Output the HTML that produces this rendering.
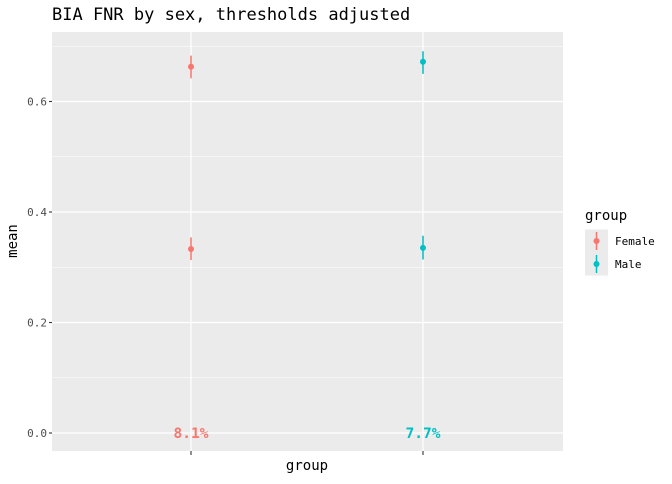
<!DOCTYPE html>
<html><head><meta charset="utf-8"><style>
body{margin:0;background:#fff;font-family:"DejaVu Sans Mono","Liberation Mono",monospace}
</style></head><body>
<svg id="c" width="672" height="480" xmlns="http://www.w3.org/2000/svg"></svg>
<script>
const categories=["Female","Male"];
const groups=["top","bottom"];
const means=[[0.663,0.333],[0.672,0.335]];
const lows=[[0.642,0.313],[0.650,0.314]];
const highs=[[0.683,0.354],[0.691,0.357]];
const labels=["8.1%","7.7%"];
const yTicks=[0,0.2,0.4,0.6];
const yTickLabels=["0.0","0.2","0.4","0.6"];
const colors=["#F8766D","#00BFC4"];
const NS="http://www.w3.org/2000/svg";
const svg=document.getElementById('c');
const L=52,R=563,T=32,B=451;
const y=v=>433-v*552.5;
const x=i=>191+i*232;
function el(t,a,p){const e=document.createElementNS(NS,t);for(const k in a)e.setAttribute(k,a[k]);(p||svg).appendChild(e);return e;}
const panel=el('rect',{x:L,y:T,width:R-L,height:B-T,fill:'#EBEBEB'});


for(let v=0.1;v<0.75;v+=0.2){const g=el('line',{x1:L,x2:R,y1:y(v),y2:y(v),stroke:'#fff','stroke-width':0.6});

}
yTicks.forEach((v,i)=>{const g=el('line',{x1:L,x2:R,y1:y(v),y2:y(v),stroke:'#fff','stroke-width':1.2});


const tk=el('line',{x1:L-3,x2:L,y1:y(v),y2:y(v),stroke:'#333','stroke-width':1.1});


const t=el('text',{x:L-5,y:y(v)+4,'text-anchor':'end','font-size':11,fill:'#4D4D4D'});t.textContent=yTickLabels[i];

});
categories.forEach((c,i)=>{const g=el('line',{x1:x(i),x2:x(i),y1:T,y2:B,stroke:'#fff','stroke-width':1.2});


const tk=el('line',{x1:x(i),x2:x(i),y1:B,y2:B+4,stroke:'#333','stroke-width':1.1});


groups.forEach((gname,j)=>{const e=el('line',{x1:x(i),x2:x(i),y1:y(lows[i][j]),y2:y(highs[i][j]),stroke:colors[i],'stroke-width':1.5});


const p=el('circle',{cx:x(i),cy:y(means[i][j]),r:3,fill:colors[i]});

});
const t=el('text',{x:x(i),y:y(0)+5,'text-anchor':'middle','font-size':14.5,'font-weight':'bold',fill:colors[i]});t.textContent=labels[i];

});
let t=el('text',{x:52,y:20,'font-size':17,fill:'#000'});t.textContent='BIA FNR by sex, thresholds adjusted';


t=el('text',{x:307,y:470,'text-anchor':'middle','font-size':14,fill:'#000'});t.textContent='group';


t=el('text',{x:17,y:241,'text-anchor':'middle','font-size':14,fill:'#000',transform:'rotate(-90 17 241)'});t.textContent='mean';


t=el('text',{x:585,y:220,'font-size':14,fill:'#000'});t.textContent='group';


categories.forEach((c,i)=>{const yy=241+i*23;
const k=el('rect',{x:585,y:yy-11.5,width:23,height:23,fill:'#EBEBEB'});


const l=el('line',{x1:596.5,x2:596.5,y1:yy-9,y2:yy+9,stroke:colors[i],'stroke-width':1.5});


const p=el('circle',{cx:596.5,cy:yy,r:3,fill:colors[i]});


const tx=el('text',{x:615,y:yy+4,'font-size':11,fill:'#000'});tx.textContent=c;

});
</script>
</body></html>
